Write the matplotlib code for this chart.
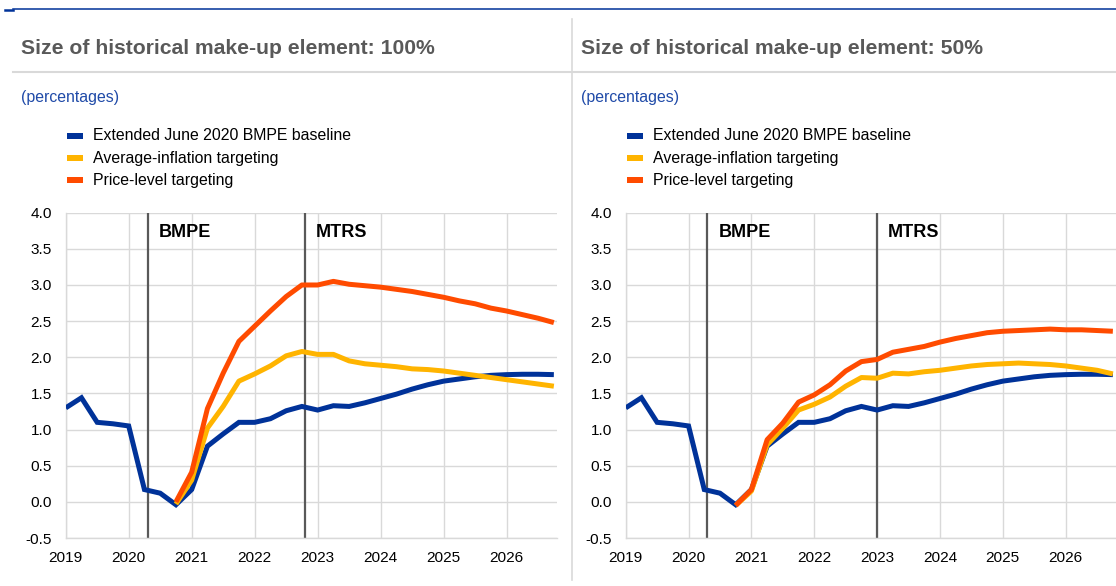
import numpy as np
import matplotlib
matplotlib.use('Agg')
import matplotlib.pyplot as plt
from matplotlib.lines import Line2D
from matplotlib.patches import Rectangle

plt.rcParams['font.family'] = ['Liberation Sans', 'DejaVu Sans']

# quarterly observations, 2019 Q1 - 2026 Q4
quarters = 2019 + np.arange(32) / 4

baseline = [1.30, 1.44, 1.10, 1.08, 1.05, 0.17, 0.12, -0.04,
            0.17, 0.77, 0.94, 1.10, 1.10, 1.15, 1.26, 1.32,
            1.27, 1.33, 1.32, 1.37, 1.43, 1.49, 1.56, 1.62,
            1.67, 1.70, 1.73, 1.75, 1.76, 1.765, 1.765, 1.76]

# make-up paths start in 2020 Q4 (index 7)
ait_100 = [-0.03, 0.30, 1.02, 1.32, 1.67, 1.77, 1.88, 2.02,
           2.08, 2.04, 2.04, 1.95, 1.91, 1.89, 1.87, 1.84,
           1.83, 1.81, 1.78, 1.75, 1.72, 1.69, 1.66, 1.63, 1.60]
plt_100 = [0.00, 0.41, 1.29, 1.78, 2.22, 2.43, 2.64, 2.84,
           3.00, 3.00, 3.05, 3.01, 2.99, 2.97, 2.94, 2.91,
           2.87, 2.83, 2.78, 2.74, 2.68, 2.64, 2.59, 2.54, 2.48]

ait_50 = [-0.05, 0.15, 0.79, 1.02, 1.27, 1.35, 1.45, 1.60,
          1.72, 1.71, 1.78, 1.77, 1.80, 1.82, 1.85, 1.88,
          1.90, 1.91, 1.92, 1.91, 1.90, 1.88, 1.85, 1.82, 1.77]
plt_50 = [-0.05, 0.17, 0.86, 1.09, 1.38, 1.48, 1.62, 1.81,
          1.94, 1.97, 2.07, 2.11, 2.15, 2.21, 2.26, 2.30,
          2.34, 2.36, 2.37, 2.38, 2.39, 2.38, 2.38, 2.37, 2.36]

titles = ['Size of historical make-up element: 100%',
          'Size of historical make-up element: 50%']
series_names = ['Extended June 2020 BMPE baseline',
                'Average-inflation targeting',
                'Price-level targeting']
bmpe_date = [2020.3, 2020.3]
mtrs_date = [2022.8, 2023.0]

BLUE = '#003299'
YELLOW = '#ffb400'
ORANGE = '#ff4b00'
GRID = '#d9d9d9'

W, H = 1116, 586
fig = plt.figure(figsize=(W / 100, H / 100), dpi=100)


def fx(px):
    return px / W


def fy(py):
    return 1 - py / H


# frame decoration
fig.add_artist(Line2D([fx(13), 1], [fy(9.3), fy(9.3)], color=BLUE, lw=1.1))
fig.add_artist(Line2D([fx(5), fx(12.7)], [fy(10.3), fy(10.3)], color=BLUE, lw=1.8))
fig.add_artist(Line2D([fx(13), 1], [fy(71.7), fy(71.7)], color=GRID, lw=1.5))
fig.add_artist(Line2D([fx(572), fx(572)], [fy(19), fy(580)], color=GRID, lw=1.2))

panels = [(65.7, 557, ait_100, plt_100), (625.7, 1116, ait_50, plt_50)]
colors = [BLUE, YELLOW, ORANGE]

for i, (x0, x1, ait, plt_path) in enumerate(panels):
    tx = 20.7 + 560 * i
    fig.text(fx(tx), fy(54), titles[i], fontsize=15.2, fontweight='bold',
             color='#595959', va='baseline', ha='left')
    fig.text(fx(tx), fy(97.5), '(percentages)', fontsize=11.4,
             color='#1f4aa8', va='center', ha='left')

    # legend drawn by hand
    for k, name in enumerate(series_names):
        yc = 136 + 22 * k
        fig.add_artist(Rectangle((fx(x0 + 0.8), fy(yc + 2.6)), fx(16.2), 5.2 / H,
                                 color=colors[k], lw=0))
        fig.text(fx(x0 + 27), fy(yc), name, fontsize=11.4, color='black',
                 va='center', ha='left')

    ax = fig.add_axes([fx(x0), fy(538), fx(x1 - x0), (538 - 212.7) / H])
    ax.plot(quarters, baseline, color=BLUE, lw=3.6, zorder=3,
            solid_joinstyle='miter', solid_capstyle='butt')
    ax.plot(quarters[7:], ait, color=YELLOW, lw=3.6, zorder=4,
            solid_capstyle='butt')
    ax.plot(quarters[7:], plt_path, color=ORANGE, lw=3.6, zorder=5,
            solid_capstyle='butt')

    for xv, lab in [(bmpe_date[i], 'BMPE'), (mtrs_date[i], 'MTRS')]:
        ax.axvline(xv, color='#595959', lw=1.6, zorder=2)
        ax.annotate(lab, xy=(xv, 3.73), xytext=(8, 0), textcoords='offset points',
                    fontsize=13, fontweight='bold', va='center', ha='left')

    ax.set_xlim(2019, 2026.8)
    ax.set_ylim(-0.5, 4.0)
    ax.set_yticks(np.arange(-0.5, 4.01, 0.5))
    ax.set_yticklabels([f'{v:.1f}' for v in np.arange(-0.5, 4.01, 0.5)])
    ax.set_xticks(range(2019, 2027))
    ax.set_xticklabels([str(y) for y in range(2019, 2027)])
    ax.tick_params(length=0, labelsize=11.1, colors='black')
    ax.tick_params(axis='y', pad=10)
    ax.tick_params(axis='x', pad=9.5)
    ax.grid(True, color=GRID, lw=1.0, zorder=0)
    ax.set_axisbelow(True)
    for side in ['top', 'right']:
        ax.spines[side].set_visible(False)
    for side in ['left', 'bottom']:
        ax.spines[side].set_color(GRID)
        ax.spines[side].set_linewidth(1.0)
    ax.set_facecolor('none')

fig.savefig('out.png', dpi=100)
